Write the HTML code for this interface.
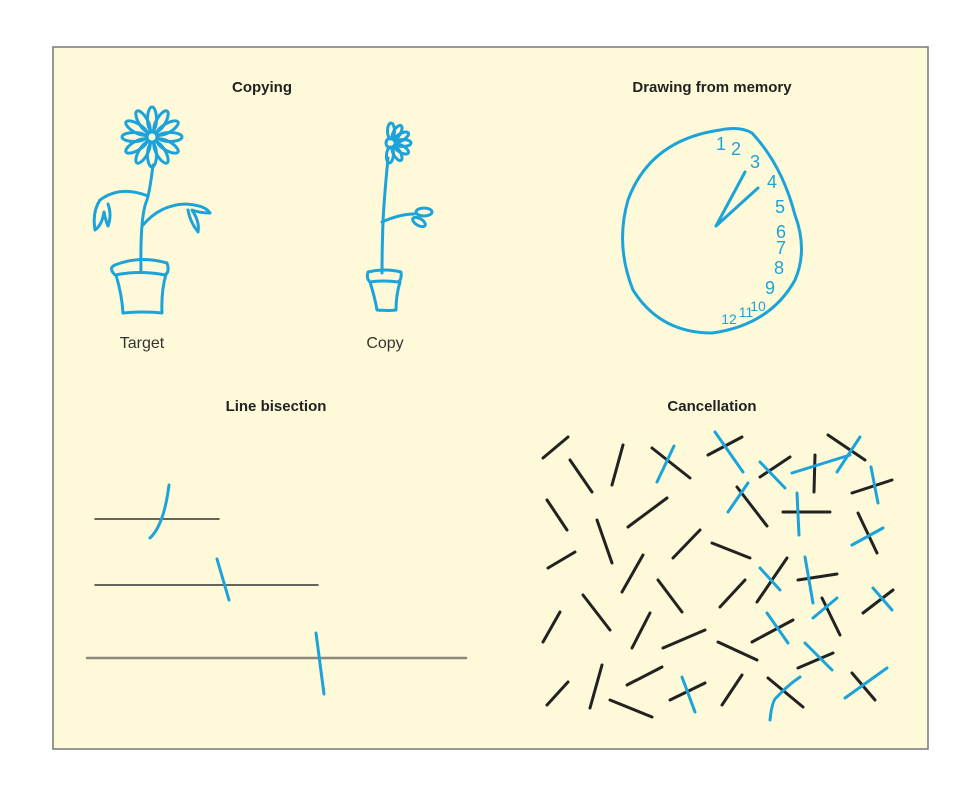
<!DOCTYPE html>
<html><head><meta charset="utf-8"><style>
html,body{margin:0;padding:0;background:#fff;}
svg{display:block;}
</style></head><body>
<svg width="975" height="785" viewBox="0 0 975 785" xmlns="http://www.w3.org/2000/svg">
<rect x="53" y="47" width="875" height="702" fill="#fdf9d9" stroke="#777" stroke-width="1.5"/>
<g font-family="Liberation Sans, sans-serif" fill="#222" text-anchor="middle">
<text x="262" y="92" font-size="15" font-weight="bold">Copying</text>
<text x="712" y="92" font-size="15" font-weight="bold">Drawing from memory</text>
<text x="276" y="411" font-size="15" font-weight="bold">Line bisection</text>
<text x="712" y="411" font-size="15" font-weight="bold">Cancellation</text>
<text x="142" y="348" font-size="16" fill="#333">Target</text>
<text x="385" y="348" font-size="16" fill="#333">Copy</text>
</g>
<g fill="none" stroke="#1ca3d9" stroke-width="3" stroke-linecap="round" stroke-linejoin="round">
<g transform="translate(152,137)">
<ellipse cx="18" cy="0" rx="12" ry="4.5"/>
<ellipse cx="18" cy="0" rx="12" ry="4.5" transform="rotate(30)"/>
<ellipse cx="18" cy="0" rx="12" ry="4.5" transform="rotate(60)"/>
<ellipse cx="18" cy="0" rx="12" ry="4.5" transform="rotate(90)"/>
<ellipse cx="18" cy="0" rx="12" ry="4.5" transform="rotate(120)"/>
<ellipse cx="18" cy="0" rx="12" ry="4.5" transform="rotate(150)"/>
<ellipse cx="18" cy="0" rx="12" ry="4.5" transform="rotate(180)"/>
<ellipse cx="18" cy="0" rx="12" ry="4.5" transform="rotate(210)"/>
<ellipse cx="18" cy="0" rx="12" ry="4.5" transform="rotate(240)"/>
<ellipse cx="18" cy="0" rx="12" ry="4.5" transform="rotate(270)"/>
<ellipse cx="18" cy="0" rx="12" ry="4.5" transform="rotate(300)"/>
<ellipse cx="18" cy="0" rx="12" ry="4.5" transform="rotate(330)"/>
<circle r="5"/>
</g>
<path d="M153 165 Q150 190 147 200 Q140 215 141 272"/>
<path d="M148 196 Q120 185 100 200 Q92 212 95 230 Q102 225 104 212 Q106 222 108 226 Q112 215 108 204"/>
<path d="M143 225 Q160 205 185 204 Q205 205 210 213 Q200 213 192 210 Q200 222 198 232 Q190 222 188 210"/>
<path d="M115 265 Q140 255 167 263 Q170 272 165 275 Q140 270 115 275 Q108 268 115 265 Z"/>
<path d="M116 275 Q122 295 123 313 Q145 311 162 313 Q161 292 166 274"/>
<g transform="translate(391,143)">
<circle r="5"/>
<ellipse cx="12" cy="0" rx="8" ry="3.5" transform="rotate(-90)"/>
<ellipse cx="12" cy="0" rx="8" ry="3.5" transform="rotate(-60)"/>
<ellipse cx="12" cy="0" rx="8" ry="3.5" transform="rotate(-30)"/>
<ellipse cx="12" cy="0" rx="8" ry="3.5"/>
<ellipse cx="12" cy="0" rx="8" ry="3.5" transform="rotate(30)"/>
<ellipse cx="12" cy="0" rx="8" ry="3.5" transform="rotate(60)"/>
<ellipse cx="12" cy="0" rx="8" ry="3.5" transform="rotate(95)"/>
</g>
<path d="M388 158 Q384 200 383 222 Q382 250 382 273"/>
<path d="M382 222 Q400 214 414 214"/>
<ellipse cx="424" cy="212" rx="8" ry="4"/>
<ellipse cx="419" cy="222" rx="7" ry="3.5" transform="rotate(30 419 222)"/>
<path d="M368 272 Q385 268 401 272 Q402 280 398 282 Q384 280 370 282 Q366 278 368 272 Z"/>
<path d="M370 282 Q375 298 377 310 Q388 311 396 310 Q396 295 400 282"/>
<path d="M720 130 Q740 126 752 133 Q782 165 795 215 Q808 250 795 280 Q770 325 712 333 Q660 333 633 290 Q615 245 628 200 Q650 140 720 130 Z"/>
<path d="M716 226 L745 172 M716 226 L758 188"/>
</g>
<g font-family="Liberation Sans, sans-serif" fill="#1ca3d9" font-size="18" text-anchor="middle">
<text x="721" y="150">1</text>
<text x="736" y="155">2</text>
<text x="755" y="168">3</text>
<text x="772" y="188">4</text>
<text x="780" y="213">5</text>
<text x="781" y="238">6</text>
<text x="781" y="254">7</text>
<text x="779" y="274">8</text>
<text x="770" y="294">9</text>
<text x="758" y="311" font-size="14">10</text>
<text x="746" y="317" font-size="14">11</text>
<text x="729" y="324" font-size="14">12</text>
</g>
<g stroke-linecap="round" fill="none">
<line x1="95" y1="519" x2="219" y2="519" stroke="#333" stroke-width="1.5"/>
<line x1="95" y1="585" x2="318" y2="585" stroke="#333" stroke-width="1.5"/>
<line x1="87" y1="658" x2="466" y2="658" stroke="#8c887a" stroke-width="2.5"/>
<path d="M169 485 Q164 525 150 538" stroke="#1ca3d9" stroke-width="3"/>
<line x1="217" y1="559" x2="229" y2="600" stroke="#1ca3d9" stroke-width="3"/>
<line x1="316" y1="633" x2="324" y2="694" stroke="#1ca3d9" stroke-width="3"/>
</g>
<g stroke="#222" stroke-width="3" stroke-linecap="round" fill="none">
<line x1="543" y1="458" x2="568" y2="437"/>
<line x1="570" y1="460" x2="592" y2="492"/>
<line x1="612" y1="485" x2="623" y2="445"/>
<line x1="652" y1="448" x2="690" y2="478"/>
<line x1="708" y1="455" x2="742" y2="437"/>
<line x1="760" y1="477" x2="790" y2="457"/>
<line x1="815" y1="455" x2="814" y2="492"/>
<line x1="828" y1="435" x2="865" y2="460"/>
<line x1="852" y1="493" x2="892" y2="480"/>
<line x1="547" y1="500" x2="567" y2="530"/>
<line x1="628" y1="527" x2="667" y2="498"/>
<line x1="737" y1="487" x2="767" y2="526"/>
<line x1="783" y1="512" x2="830" y2="512"/>
<line x1="858" y1="513" x2="877" y2="553"/>
<line x1="597" y1="520" x2="612" y2="563"/>
<line x1="548" y1="568" x2="575" y2="552"/>
<line x1="673" y1="558" x2="700" y2="530"/>
<line x1="712" y1="543" x2="750" y2="558"/>
<line x1="622" y1="592" x2="643" y2="555"/>
<line x1="658" y1="580" x2="682" y2="612"/>
<line x1="757" y1="602" x2="787" y2="558"/>
<line x1="798" y1="580" x2="837" y2="574"/>
<line x1="863" y1="613" x2="893" y2="590"/>
<line x1="720" y1="607" x2="745" y2="580"/>
<line x1="583" y1="595" x2="610" y2="630"/>
<line x1="543" y1="642" x2="560" y2="612"/>
<line x1="632" y1="648" x2="650" y2="613"/>
<line x1="822" y1="598" x2="840" y2="635"/>
<line x1="663" y1="648" x2="705" y2="630"/>
<line x1="718" y1="642" x2="757" y2="660"/>
<line x1="752" y1="642" x2="793" y2="620"/>
<line x1="798" y1="668" x2="833" y2="653"/>
<line x1="547" y1="705" x2="568" y2="682"/>
<line x1="590" y1="708" x2="602" y2="665"/>
<line x1="627" y1="685" x2="662" y2="667"/>
<line x1="610" y1="700" x2="652" y2="717"/>
<line x1="670" y1="700" x2="705" y2="683"/>
<line x1="722" y1="705" x2="742" y2="675"/>
<line x1="768" y1="678" x2="803" y2="707"/>
<line x1="852" y1="673" x2="875" y2="700"/>
</g>
<g stroke="#1ca3d9" stroke-width="3" stroke-linecap="round" fill="none">
<line x1="657" y1="482" x2="674" y2="446"/>
<line x1="715" y1="432" x2="743" y2="472"/>
<line x1="760" y1="462" x2="785" y2="488"/>
<line x1="792" y1="473" x2="850" y2="455"/>
<line x1="837" y1="472" x2="860" y2="437"/>
<line x1="871" y1="467" x2="878" y2="503"/>
<line x1="728" y1="512" x2="748" y2="483"/>
<line x1="797" y1="493" x2="799" y2="535"/>
<line x1="852" y1="545" x2="883" y2="528"/>
<line x1="760" y1="568" x2="780" y2="590"/>
<line x1="805" y1="557" x2="813" y2="603"/>
<line x1="873" y1="588" x2="892" y2="610"/>
<line x1="813" y1="618" x2="837" y2="598"/>
<line x1="767" y1="613" x2="788" y2="643"/>
<line x1="805" y1="643" x2="832" y2="670"/>
<line x1="682" y1="677" x2="695" y2="712"/>
<path d="M770 720 Q772 700 777 697 Q788 685 800 677"/>
<line x1="845" y1="698" x2="887" y2="668"/>
</g>
</svg>
</body></html>
